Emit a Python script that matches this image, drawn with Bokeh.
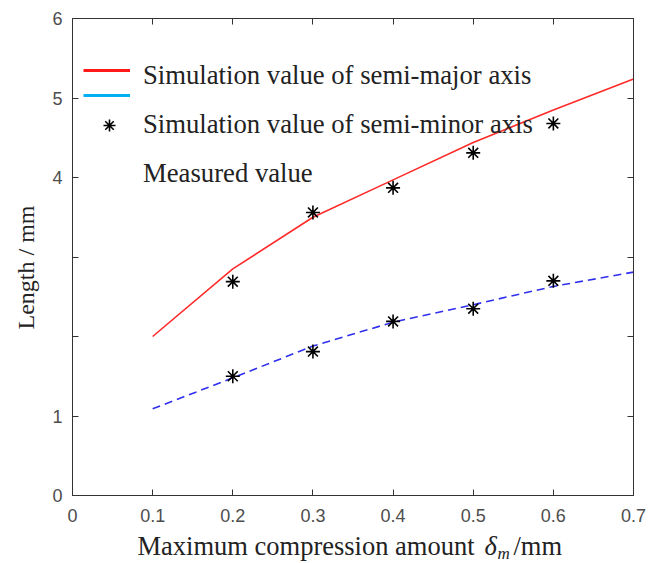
import math
from bokeh.plotting import figure
from bokeh.layouts import row, column
from bokeh.models import Range1d, FixedTicker, LinearAxis, Legend, LegendItem, Label
from bokeh.embed import file_html
from bokeh.resources import INLINE

# ---------------- data ----------------
x_sim = [0.1, 0.2, 0.3, 0.4, 0.5, 0.6, 0.7]
major_sim = [2.00, 2.85, 3.50, 3.97, 4.44, 4.85, 5.24]
minor_sim = [1.09, 1.48, 1.88, 2.18, 2.40, 2.63, 2.81]

x_meas = [0.2, 0.3, 0.4, 0.5, 0.6]
major_meas = [2.69, 3.56, 3.87, 4.31, 4.68]
minor_meas = [1.50, 1.81, 2.19, 2.35, 2.70]

x_ticks = [0, 0.1, 0.2, 0.3, 0.4, 0.5, 0.6, 0.7]
x_tick_labels = {0: "0", 0.1: "0.1", 0.2: "0.2", 0.3: "0.3", 0.4: "0.4",
                 0.5: "0.5", 0.6: "0.6", 0.7: "0.7"}
y_ticks = [0, 1, 2, 3, 4, 5, 6]
y_tick_labels = {0: "0", 1: "1", 2: "", 3: "", 4: "4", 5: "5", 6: "6"}

legend_labels = ["Simulation value of semi-major axis",
                 "Simulation value of semi-minor axis",
                 "Measured value"]
x_title = "Maximum compression amount"
x_title_sym = "δ"
x_title_sub = "m"
x_title_unit = "/mm"
y_title = "Length / mm"

SERIF = "Liberation Serif"
SANS = "Liberation Sans"
AXC = "#333333"
TXT = "#222222"

# ---------------- main plot ----------------
p = figure(width=617, height=530, x_range=Range1d(0, 0.7), y_range=Range1d(0, 6),
           output_backend="svg", toolbar_location=None, title=None,
           min_border_left=32, min_border_right=24, min_border_top=18,
           min_border_bottom=35)
p.xgrid.visible = False
p.ygrid.visible = False
p.outline_line_color = AXC
p.background_fill_color = "white"
p.border_fill_color = "white"
p.extra_y_ranges = {"hidden": Range1d(100, 200)}


def style_axis(ax, show_labels=True):
    ax.major_tick_in = 6
    ax.major_tick_out = 0
    ax.minor_tick_line_color = None
    ax.axis_line_color = AXC
    ax.major_tick_line_color = AXC
    ax.major_label_text_font = SANS
    if show_labels:
        ax.major_label_text_font_size = "18px"
        ax.major_label_text_color = "#4d4d4d"
    else:
        ax.major_label_text_font_size = "1px"
        ax.major_label_text_color = None
        ax.major_label_standoff = 0


p.xaxis.ticker = FixedTicker(ticks=x_ticks)
p.xaxis.major_label_overrides = x_tick_labels
p.yaxis.ticker = FixedTicker(ticks=y_ticks)
p.yaxis.major_label_overrides = y_tick_labels
style_axis(p.xaxis[0])
style_axis(p.yaxis[0])
p.xaxis.major_label_standoff = 13
p.yaxis.major_label_standoff = 10

top_ax = LinearAxis(ticker=FixedTicker(ticks=x_ticks))
right_ax = LinearAxis(ticker=FixedTicker(ticks=y_ticks))
style_axis(top_ax, False)
style_axis(right_ax, False)
p.add_layout(top_ax, "above")
p.add_layout(right_ax, "right")

# ---------------- data glyphs ----------------
p.line(x_sim, major_sim, line_color="#ff2a2a", line_width=1.6)
p.line(x_sim, minor_sim, line_color="#2f2fee", line_width=1.6, line_dash="8 5")
stars_major = p.scatter(x_meas, major_meas, marker="asterisk", size=14,
                        line_color="black", line_width=1.6)
p.scatter(x_meas, minor_meas, marker="asterisk", size=14, line_color="black",
          line_width=1.6)

# ---------------- legend ----------------
# legend-only renderers (drawn on an off-screen range so only their key shows)
leg_red = p.line(x_sim, major_sim, line_color="#ff1a1a", line_width=3,
                 y_range_name="hidden")
leg_cyan = p.line(x_sim, minor_sim, line_color="#00b0f0", line_width=3,
                  y_range_name="hidden")
leg_none1 = p.line([], [], line_alpha=0)
leg_none2 = p.line([], [], line_alpha=0)

legA = Legend(items=[LegendItem(label="", renderers=[leg_red]),
                     LegendItem(label="", renderers=[leg_cyan])],
              location=(11, 390), glyph_width=47, glyph_height=20,
              label_height=20, label_width=0, spacing=5, padding=0, margin=0,
              label_text_font_size="1px", label_text_color=None,
              border_line_alpha=0, background_fill_alpha=0)
legB = Legend(items=[LegendItem(label=legend_labels[0], renderers=[leg_none1]),
                     LegendItem(label=legend_labels[1], renderers=[stars_major]),
                     LegendItem(label=legend_labels[2], renderers=[leg_none2])],
              location=(11, 306), glyph_width=52, glyph_height=30,
              label_height=30, spacing=18, padding=0, margin=0, label_standoff=8,
              label_text_font=SERIF, label_text_font_size="26.7px",
              label_text_color=TXT, border_line_alpha=0,
              background_fill_alpha=0)
p.add_layout(legA, "center")
p.add_layout(legB, "center")


def blank_fig(w, h):
    f = figure(width=w, height=h, x_range=Range1d(0, w), y_range=Range1d(0, h),
               x_axis_type=None, y_axis_type=None, title=None,
               output_backend="svg", toolbar_location=None,
               min_border_left=0, min_border_right=0, min_border_top=0,
               min_border_bottom=0)
    f.grid.visible = False
    f.outline_line_color = None
    f.background_fill_color = "white"
    f.border_fill_color = "white"
    return f


# ---------------- y title (left strip) ----------------
left = blank_fig(40, 530)
left.add_layout(Label(x=25, y=228, x_units="screen", y_units="screen", text=y_title,
                      angle=math.pi / 2, text_font=SERIF, text_font_size="24px",
                      text_color=TXT, text_align="center",
                      text_baseline="middle"))

# ---------------- x title (bottom strip) ----------------
bottom = blank_fig(657, 33)
bottom.add_layout(Label(x=137, y=18, x_units="screen", y_units="screen", text=x_title,
                        text_font=SERIF, text_font_size="26.5px", text_color=TXT,
                        text_baseline="middle"))
bottom.add_layout(Label(x=484, y=18, x_units="screen", y_units="screen", text=x_title_sym,
                        text_font=SERIF, text_font_size="26.5px", text_font_style="italic",
                        text_color=TXT, text_baseline="middle"))
bottom.add_layout(Label(x=497, y=10, x_units="screen", y_units="screen", text=x_title_sub,
                        text_font=SERIF, text_font_size="17px", text_font_style="italic",
                        text_color=TXT, text_baseline="middle"))
bottom.add_layout(Label(x=513, y=18, x_units="screen", y_units="screen", text=x_title_unit,
                        text_font=SERIF, text_font_size="26.5px", text_color=TXT,
                        text_baseline="middle"))

layout = column(row(left, p), bottom)
open("out.html", "w").write(file_html(layout, INLINE))
